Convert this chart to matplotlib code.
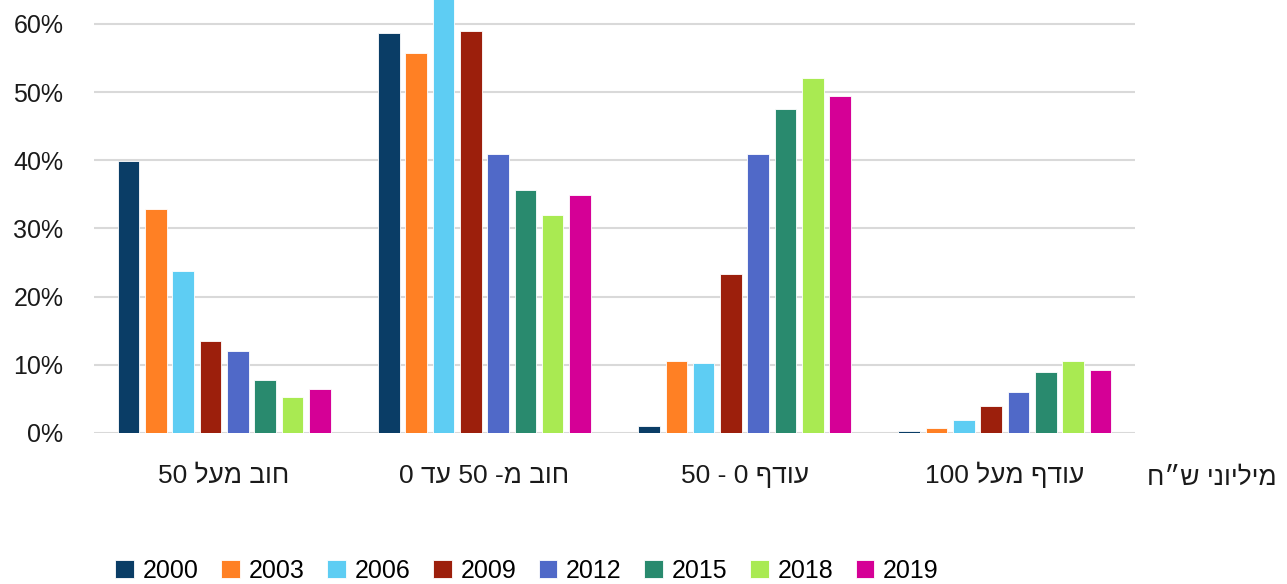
import re
import matplotlib
matplotlib.use('Agg')
import matplotlib.pyplot as plt
import numpy as np
from matplotlib.ticker import PercentFormatter

plt.rcParams['font.family'] = ['Liberation Sans', 'DejaVu Sans']

categories = ['חוב מעל 50', 'חוב מ- 50 עד 0', 'עודף 0 - 50', 'עודף מעל 100']
years = ['2000', '2003', '2006', '2009', '2012', '2015', '2018', '2019']
colors = ['#0a3d66', '#ff8024', '#5ecdf3', '#9c1f0c', '#5069c8', '#298a6e', '#a9ea52', '#d50096']

# share of companies per group, one list per year (percent)
values = {
    '2000': [39.9, 58.6, 1.0, 0.3],
    '2003': [32.8, 55.8, 10.6, 0.7],
    '2006': [23.7, 66.0, 10.3, 1.9],
    '2009': [13.5, 59.0, 23.3, 4.0],
    '2012': [12.0, 40.9, 40.9, 6.0],
    '2015': [7.8, 35.7, 47.5, 8.9],
    '2018': [5.3, 31.9, 52.0, 10.6],
    '2019': [6.4, 34.9, 49.4, 9.2],
}
unit_label = 'מיליוני ש״ח'


def visual(s):
    # crude RTL -> visual order: flip everything, then put digit runs back
    r = s[::-1]
    return re.sub(r'\d+', lambda m: m.group(0)[::-1], r)


fig = plt.figure(figsize=(12.87, 5.84), dpi=100)
ax = fig.add_axes([94 / 1287, 1 - 433 / 584, 1041 / 1287, 433 / 584])

x = np.arange(len(categories))
pitch = 0.105
width = 0.083
for i, y in enumerate(years):
    ax.bar(x + (i - 3.5) * pitch, values[y], width, color=colors[i],
           edgecolor='white', linewidth=0.6, label=y, zorder=3)

ax.set_xlim(-0.5, 3.5)
ax.set_ylim(0, 63.5)
ax.set_yticks(np.arange(0, 61, 10))
ax.yaxis.set_major_formatter(PercentFormatter(decimals=0))
ax.grid(axis='y', color='#d9d9d9', linewidth=1.5, zorder=0)
for s in ax.spines.values():
    s.set_visible(False)
ax.tick_params(axis='y', length=0, labelsize=18, pad=22, labelcolor='#1a1a1a')
ax.tick_params(axis='x', length=0, labelsize=19, pad=36, labelcolor='#1a1a1a')
ax.set_xticks(x)
ax.set_xticklabels([visual(c) for c in categories], va='baseline')

fig.text(1277 / 1287, 1 - 485 / 584, visual(unit_label), ha='right', va='baseline',
         fontsize=19, color='#1a1a1a')

ax.legend(loc='center', bbox_to_anchor=(527 / 1287, 1 - 571 / 584),
          bbox_transform=fig.transFigure, ncol=8, frameon=False, fontsize=18,
          handlelength=0.75, handleheight=0.75, handletextpad=0.35, columnspacing=0.9)

fig.savefig('out.png', dpi=100)
